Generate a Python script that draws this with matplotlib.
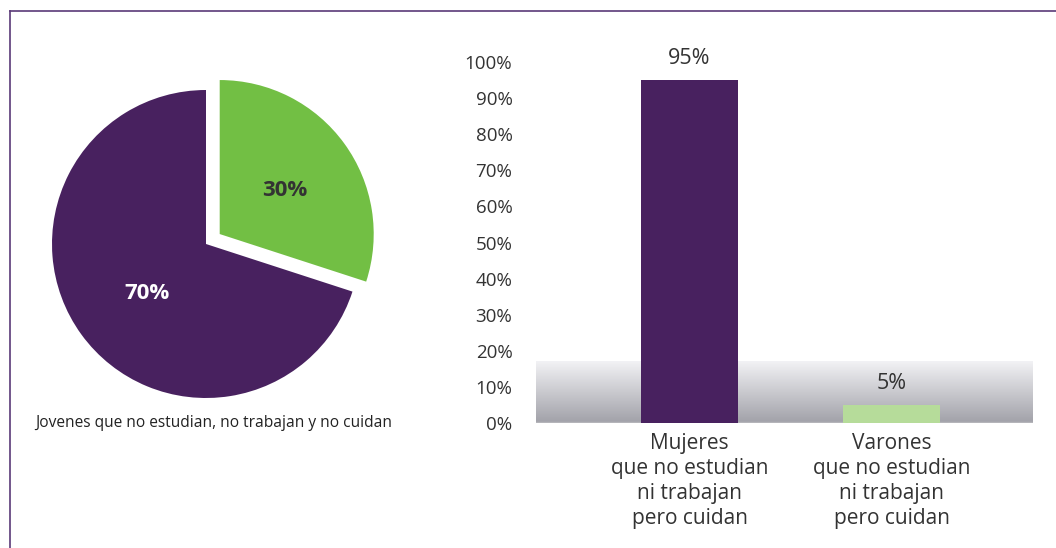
import numpy as np
import matplotlib.pyplot as plt
from matplotlib.lines import Line2D

plt.rcParams['font.family'] = ['Open Sans', 'DejaVu Sans']

# Data
pie_labels = ['70%', '30%']
pie_values = [70, 30]
pie_caption = "Jovenes que no estudian, no trabajan y no cuidan"

bar_categories = ["Mujeres\nque no estudian\nni trabajan\npero cuidan",
                  "Varones\nque no estudian\nni trabajan\npero cuidan"]
bar_values = [95, 5]
yticks = [0, 10, 20, 30, 40, 50, 60, 70, 80, 90, 100]

purple = '#48215f'
green = '#72bf44'
light_green = '#b6dc9a'

W, H = 1056, 548
fig = plt.figure(figsize=(W / 100, H / 100), dpi=100)

def px_axes(x0, y0, x1, y1):
    # pixel box (top-left origin) -> figure axes
    return fig.add_axes([x0 / W, 1 - y1 / H, (x1 - x0) / W, (y1 - y0) / H])

# frame lines
fig.add_artist(Line2D([10 / W, 10 / W], [0, 1 - 11 / H], color='#5a3a78', lw=1.2))
fig.add_artist(Line2D([10 / W, 1], [1 - 11 / H, 1 - 11 / H], color='#5a3a78', lw=1.2))

# Pie
cx, cy, r = 206, 244, 154
half = 200
axp = px_axes(cx - half, cy - half, cx + half, cy + half)
lim = half / r
wedges, _ = axp.pie(pie_values, colors=[purple, green], startangle=90,
                    counterclock=True, explode=[0, 0.11], radius=1,
                    wedgeprops=dict(linewidth=0))
axp.set_xlim(-lim, lim)
axp.set_ylim(-lim, lim)
axp.set_aspect('equal')
axp.axis('off')
axp.text(-0.38, -0.32, pie_labels[0], color='white', fontsize=16, fontweight='bold',
         ha='center', va='center')
axp.text(0.51, 0.35, pie_labels[1], color='#333333', fontsize=16, fontweight='bold',
         ha='center', va='center')
fig.text(35 / W, 1 - 423 / H, pie_caption, fontsize=11.2, color='#222222',
         ha='left', va='center')

# Bars
axb = px_axes(536, 62, 1033, 423)
xlo, xhi = -0.76, 1.70
x = np.arange(len(bar_values))
grad = np.linspace(0, 1, 256).reshape(-1, 1, 1)
top_c = np.array([0.95, 0.95, 0.96])
bot_c = np.array([0.63, 0.63, 0.66])
img = top_c * (1 - grad) + bot_c * grad
axb.imshow(img, extent=[xlo, xhi, 0, 17], aspect='auto', zorder=0, origin='upper')
axb.axhline(0, color='#b5b5ba', lw=2.5, zorder=1)
axb.bar(x, bar_values, width=0.48, color=[purple, light_green], zorder=2)
for xi, v in zip(x, bar_values):
    axb.text(xi, v + 3, f"{v}%", ha='center', va='bottom', fontsize=15.5, color='#333333')
axb.set_xlim(xlo, xhi)
axb.set_ylim(0, 100)
axb.set_yticks(yticks)
axb.set_yticklabels([f"{t}%" for t in yticks], fontsize=13.5, color='#333333')
axb.set_xticks(x)
axb.set_xticklabels(bar_categories, fontsize=15, color='#333333', linespacing=1.25)
axb.tick_params(axis='both', length=0)
axb.tick_params(axis='y', pad=17)
axb.tick_params(axis='x', pad=7)
for s in axb.spines.values():
    s.set_visible(False)

fig.savefig('out.png', dpi=100)
